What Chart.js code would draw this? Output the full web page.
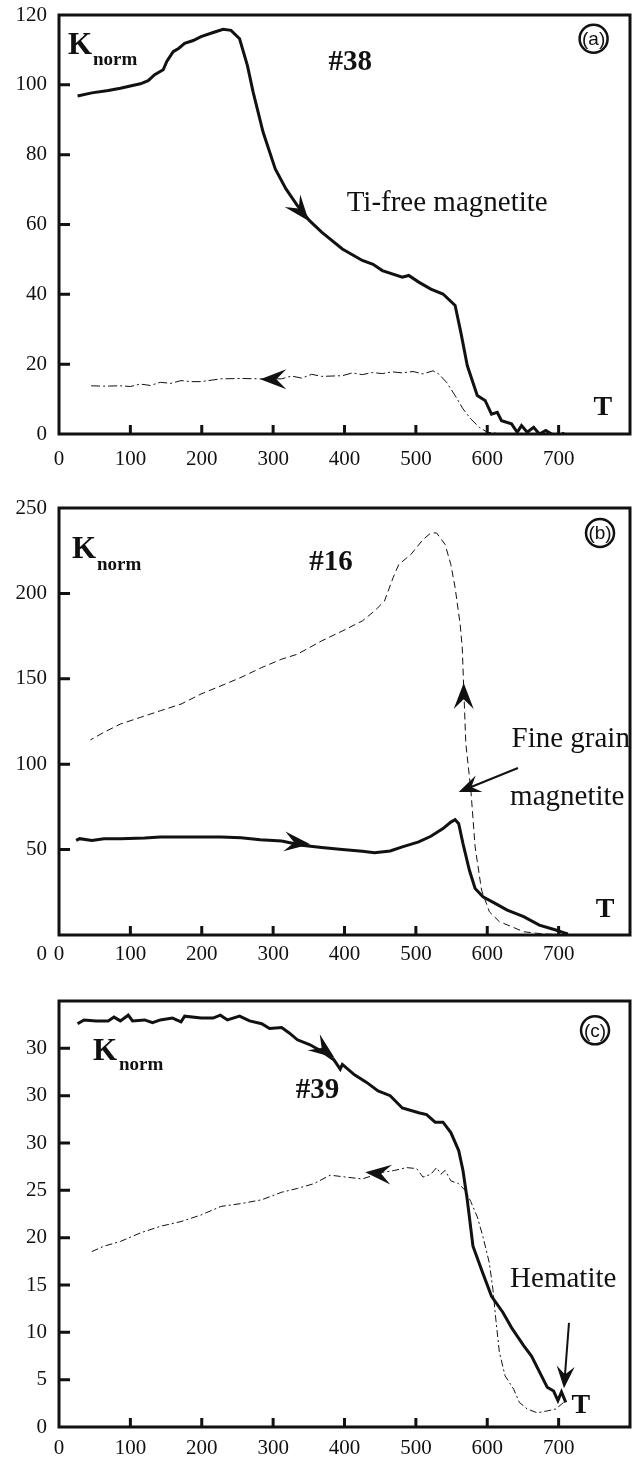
<!DOCTYPE html>
<html>
<head>
<meta charset="utf-8">
<script src="https://cdn.jsdelivr.net/npm/chart.js@4"></script>
<style>
  body { margin: 0; background: #fff; }
  canvas { position: absolute; left: 0; }
</style>
</head>
<body>
<canvas id="chartA" width="632" height="475" style="top:0px"></canvas>
<canvas id="chartB" width="632" height="485" style="top:485px"></canvas>
<canvas id="chartC" width="632" height="482" style="top:975px"></canvas>
<script>
// panel (a) #38
const aHeatT = [26,46,69,86,103,114,125,134,146,151,160,168,176,188,199,216,230,241,253,264,272,286,303,318,334,351,368,397,425,440,453,481,490,504,521,538,555,563,572,586,597,606,614,620,634,642,648,656,665,673,682,690,702,707];
const aHeatK = [96.8,97.7,98.4,99,99.8,100.3,101.2,102.9,104.3,106.7,109.5,110.5,111.9,112.7,113.8,115,115.9,115.6,113.2,105.5,97.9,86.4,75.9,70.2,65.4,61.1,57.8,53,49.7,48.6,46.8,44.9,45.4,43.5,41.5,40.1,36.8,29.1,19.6,11,9.6,5.7,6.2,3.8,2.9,0.5,2.4,0.5,1.9,0,1,0,-1.9,0.5];
const aCoolT = [45,63,86,100,114,128,142,157,171,185,199,227,255,282,312,326,340,354,368,397,411,425,439,453,467,481,496,510,524,532,543,555,566,577,589,600,623,651,679,707];
const aCoolK = [13.8,13.7,13.8,13.6,14.3,13.9,14.8,14.5,15.3,15.0,15.0,15.8,15.9,15.8,15.8,16.6,16.0,17.1,16.5,16.7,17.5,17.0,17.6,17.3,17.8,17.5,17.9,17.2,18.1,17.2,14.8,11,7.2,4.3,1.9,0.5,0,0,-0.3,0];

// panel (b) #16
const bHeatT = [24,29,46,63,86,120,142,171,199,227,255,282,312,340,368,397,425,442,464,481,504,521,538,549,555,560,566,575,583,594,611,628,651,673,696,707,713];
const bHeatK = [55.4,56.4,55.4,56.4,56.4,56.8,57.4,57.4,57.4,57.4,57,55.8,55,52.5,51.2,50,49,48.1,49.2,51.6,54.5,57.8,62.3,66.1,67.5,65.2,53.5,37.9,27.2,22.4,18.5,14.6,10.7,5.8,2.9,1.4,0.6];
const bCoolT = [707,679,651,634,617,603,592,583,577,570,567,565,562,555,549,541,529,521,510,493,476,468,456,442,425,397,368,334,312,284,255,227,199,171,142,114,86,63,44];
const bCoolK = [0,0.6,1.9,4.9,7.8,13.6,26.3,51.6,85,112,145,168,182,203.3,216.9,228.6,235.4,235.4,231.5,222.8,216.9,209.1,195.5,189.7,183.9,178,172.2,164.4,161.5,156.6,150.8,145.9,141.1,135.2,131.3,127.4,123.5,118.7,114.2];

// panel (c) #39
const cHeatT = [26,35,52,69,77,86,97,103,120,131,142,159,171,176,199,216,226,236,253,267,284,295,312,323,334,351,368,385,394,397,414,431,447,464,481,504,515,527,538,549,560,566,572,580,592,606,622,634,651,662,676,684,693,699,704,710];
const cHeatK = [42.6,43,42.9,42.9,43.3,42.9,43.5,42.9,43,42.7,43,43.2,42.8,43.4,43.2,43.2,43.5,43,43.4,42.9,42.6,42.1,42.2,41.6,40.9,40.4,39.7,38.8,37.8,38.3,37.2,36.4,35.5,35,33.7,33.2,33,32.2,32.2,31.1,29.2,27.1,24,19.1,16.6,13.8,12.1,10.5,8.6,7.5,5.4,4.2,3.8,2.8,3.7,2.6];
const cCoolT = [707,696,684,670,656,645,637,625,617,612,608,603,594,586,577,569,560,549,541,535,529,521,510,501,487,470,453,425,402,380,357,334,312,284,255,227,199,171,142,114,86,63,45];
const cCoolK = [2.6,1.9,1.7,1.5,1.9,2.6,4.0,5.4,7.9,11.4,14.5,17.3,20.1,22.2,23.8,25,25.7,26,27.1,26.7,27.4,26.7,26.4,27.3,27.4,27.1,26.9,26.2,26.4,26.6,25.7,25.2,24.8,24,23.6,23.3,22.4,21.7,21.2,20.5,19.6,19.1,18.5];

// tick labels
const xLabels = ["0","100","200","300","400","500","600","700"];
const aYLabels = ["0","20","40","60","80","100","120"];
const bYLabels = ["","50","100","150","200","250"];
const cYLabels = ["0","5","10","15","20","25","30","30","30"];

const INK = "#111";
const SERIF = "Liberation Serif";

function pts(xs, ys) {
    return xs.map((x, i) => ({ x: x, y: ys[i] }));
}

function drawHead(ctx, px, py, ang, len, half) {
    ctx.save();
    ctx.translate(px, py);
    ctx.rotate(ang);
    ctx.beginPath();
    ctx.moveTo(0, 0);
    ctx.lineTo(-len, -half);
    ctx.lineTo(-len * 0.62, 0);
    ctx.lineTo(-len, half);
    ctx.closePath();
    ctx.fill();
    ctx.restore();
}

// drop the extra room Chart.js keeps for edge labels so the box sits where it should
function noEdgePad(s) {
    s.paddingTop = 0;
    s.paddingBottom = 0;
    s.paddingLeft = 0;
    s.paddingRight = 0;
}

// frame, inward ticks, labels and arrows
const panelDecor = {
    id: "panelDecor",
    afterDraw(chart, args, opts) {
        const { ctx, chartArea: a, scales: { x, y } } = chart;
        ctx.save();
        ctx.strokeStyle = INK;
        ctx.fillStyle = INK;
        ctx.lineWidth = 3;
        ctx.strokeRect(a.left, a.top, a.right - a.left, a.bottom - a.top);

        ctx.beginPath();
        x.ticks.forEach(t => {
            if (t.value <= x.min || t.value >= x.max || !t.label) return;
            const px = x.getPixelForValue(t.value);
            ctx.moveTo(px, a.bottom);
            ctx.lineTo(px, a.bottom - 9);
        });
        y.ticks.forEach(t => {
            if (t.value <= y.min || t.value >= y.max || !t.label) return;
            const py = y.getPixelForValue(t.value);
            ctx.moveTo(a.left, py);
            ctx.lineTo(a.left + 11, py);
        });
        ctx.stroke();

        (opts.texts || []).forEach(t => {
            ctx.font = t.font;
            ctx.textAlign = t.align || "left";
            ctx.textBaseline = "alphabetic";
            ctx.fillText(t.text, x.getPixelForValue(t.x), y.getPixelForValue(t.y));
        });

        if (opts.circle) {
            const c = opts.circle;
            const cx = x.getPixelForValue(c.x), cy = y.getPixelForValue(c.y);
            ctx.lineWidth = 2.5;
            ctx.beginPath();
            ctx.arc(cx, cy, 14, 0, Math.PI * 2);
            ctx.stroke();
            ctx.font = "19px Liberation Sans";
            ctx.textAlign = "center";
            ctx.textBaseline = "middle";
            ctx.fillText(c.text, cx, cy + 1);
        }

        (opts.heads || []).forEach(h => {
            drawHead(ctx, x.getPixelForValue(h.x), y.getPixelForValue(h.y), h.angle * Math.PI / 180, 26, 10);
        });

        (opts.pointers || []).forEach(p => {
            const x1 = x.getPixelForValue(p.x1), y1 = y.getPixelForValue(p.y1);
            const x2 = x.getPixelForValue(p.x2), y2 = y.getPixelForValue(p.y2);
            const ang = Math.atan2(y2 - y1, x2 - x1);
            ctx.lineWidth = 2;
            ctx.beginPath();
            ctx.moveTo(x1, y1);
            ctx.lineTo(x2 - Math.cos(ang) * 12, y2 - Math.sin(ang) * 12);
            ctx.stroke();
            drawHead(ctx, x2, y2, ang, 22, 9);
        });
        ctx.restore();
    }
};

function makePanel(id, cfg) {
    const ctx = document.getElementById(id).getContext("2d");
    return new Chart(ctx, {
        type: "line",
        data: {
            datasets: [{
                data: pts(cfg.heatT, cfg.heatK),
                borderColor: INK,
                borderWidth: 3,
                pointRadius: 0,
                tension: 0
            }, {
                data: pts(cfg.coolT, cfg.coolK),
                borderColor: INK,
                borderWidth: 1,
                borderDash: cfg.coolDash,
                pointRadius: 0,
                tension: 0
            }]
        },
        options: {
            responsive: false,
            animation: false,
            layout: { padding: { top: cfg.top, right: 2, left: 0, bottom: 0 } },
            plugins: {
                legend: { display: false },
                tooltip: { enabled: false },
                panelDecor: cfg.decor
            },
            scales: {
                x: {
                    type: "linear",
                    min: 0,
                    max: 800,
                    grid: { display: false, drawTicks: false },
                    border: { display: false },
                    afterFit: s => { s.height = cfg.xAxisH; noEdgePad(s); },
                    ticks: {
                        stepSize: 100,
                        autoSkip: false,
                        maxRotation: 0,
                        padding: cfg.xPad,
                        color: INK,
                        font: { family: SERIF, size: 21 },
                        callback: (v, i) => xLabels[i] || ""
                    }
                },
                y: {
                    min: cfg.yMin,
                    max: cfg.yMax,
                    grid: { display: false, drawTicks: false },
                    border: { display: false },
                    afterFit: s => { s.width = 59; noEdgePad(s); },
                    ticks: {
                        stepSize: cfg.yStep,
                        autoSkip: false,
                        padding: 12,
                        color: INK,
                        font: { family: SERIF, size: 21 },
                        callback: (v, i) => cfg.yLabels[i] || ""
                    }
                }
            }
        },
        plugins: [panelDecor]
    });
}

makePanel("chartA", {
    heatT: aHeatT, heatK: aHeatK, coolT: aCoolT, coolK: aCoolK,
    coolDash: [9, 3, 2, 3],
    top: 15, xAxisH: 41, xPad: 13,
    yMin: 0, yMax: 120, yStep: 20, yLabels: aYLabels,
    decor: {
        texts: [
            { text: "K", x: 12.6, y: 108.9, font: "bold 31px " + SERIF },
            { text: "norm", x: 47.6, y: 105.7, font: "bold 19px " + SERIF },
            { text: "#38", x: 408, y: 104.3, font: "bold 29px " + SERIF, align: "center" },
            { text: "Ti-free magnetite", x: 403, y: 63.8, font: "29px " + SERIF },
            { text: "T", x: 762, y: 5.5, font: "bold 28px " + SERIF, align: "center" }
        ],
        circle: { text: "(a)", x: 749, y: 113.2 },
        heads: [
            { x: 350, y: 61, angle: 51 },
            { x: 282, y: 15.7, angle: 180 }
        ]
    }
});

makePanel("chartB", {
    heatT: bHeatT, heatK: bHeatK, coolT: bCoolT, coolK: bCoolK,
    coolDash: [7, 4],
    top: 23, xAxisH: 35, xPad: 7,
    yMin: 0, yMax: 250, yStep: 50, yLabels: bYLabels,
    decor: {
        texts: [
            { text: "0", x: -24, y: -14.5, font: "21px " + SERIF, align: "center" },
            { text: "K", x: 18.2, y: 220.7, font: "bold 31px " + SERIF },
            { text: "norm", x: 53.2, y: 213.7, font: "bold 19px " + SERIF },
            { text: "#16", x: 381, y: 213.7, font: "bold 29px " + SERIF, align: "center" },
            { text: "Fine grain", x: 634, y: 110, font: "29px " + SERIF },
            { text: "magnetite", x: 632, y: 76, font: "29px " + SERIF },
            { text: "T", x: 765, y: 10.5, font: "bold 28px " + SERIF, align: "center" }
        ],
        circle: { text: "(b)", x: 758, y: 235.4 },
        heads: [
            { x: 352, y: 53.2, angle: 6 },
            { x: 567, y: 147.5, angle: -90 }
        ],
        pointers: [
            { x1: 643, y1: 97.8, x2: 560, y2: 83.7 }
        ]
    }
});

makePanel("chartC", {
    heatT: cHeatT, heatK: cHeatK, coolT: cCoolT, coolK: cCoolK,
    coolDash: [7, 3, 2, 3],
    top: 26, xAxisH: 30, xPad: 9,
    yMin: 0, yMax: 45, yStep: 5, yLabels: cYLabels,
    decor: {
        texts: [
            { text: "K", x: 47.6, y: 38.8, font: "bold 31px " + SERIF },
            { text: "norm", x: 84, y: 37.7, font: "bold 19px " + SERIF },
            { text: "#39", x: 362, y: 34.75, font: "bold 29px " + SERIF, align: "center" },
            { text: "Hematite", x: 632, y: 14.8, font: "29px " + SERIF },
            { text: "T", x: 731, y: 1.5, font: "bold 28px " + SERIF, align: "center" }
        ],
        circle: { text: "(c)", x: 751, y: 41.9 },
        heads: [
            { x: 386, y: 39, angle: 37 },
            { x: 429, y: 26.9, angle: 185 }
        ],
        pointers: [
            { x1: 714.5, y1: 11, x2: 707.5, y2: 4.1 }
        ]
    }
});
</script>
</body>
</html>
